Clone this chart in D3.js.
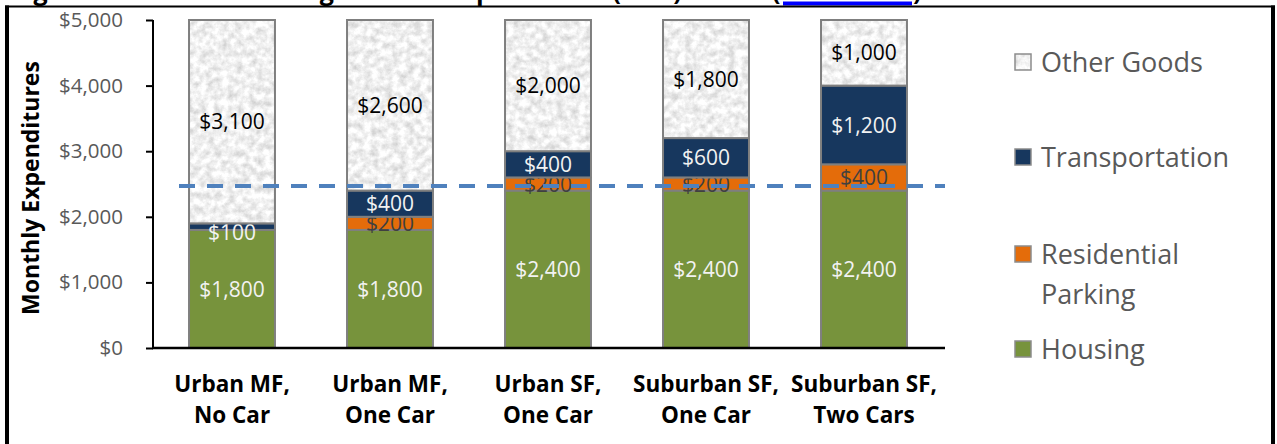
<!DOCTYPE html>
<html>
<head>
<meta charset="utf-8">
<script src="https://cdn.jsdelivr.net/npm/d3@7"></script>
<style>
  html, body { margin: 0; padding: 0; background: #fff; }
  svg { display: block; }
  text { font-family: "Open Sans", "DejaVu Sans", sans-serif; }
</style>
</head>
<body>
<svg id="chart" width="1277" height="444"></svg>
<script>
// Monthly household spending by scenario
const categories = [
  "Urban MF,\nNo Car",
  "Urban MF,\nOne Car",
  "Urban SF,\nOne Car",
  "Suburban SF,\nOne Car",
  "Suburban SF,\nTwo Cars"
];
const housing        = [1800, 1800, 2400, 2400, 2400];
const parking        = [0, 200, 200, 200, 400];
const transportation = [100, 400, 400, 600, 1200];
const otherGoods     = [3100, 2600, 2000, 1800, 1000];
const seriesNames    = ["Housing", "Residential Parking", "Transportation", "Other Goods"];
const yTicks         = [0, 1000, 2000, 3000, 4000, 5000];
const affordabilityLine = 2470;

const svg = d3.select("#chart");
const W = 1277, H = 444;

// Frame and partially visible heading
svg.append("text")
  .attr("x", 10).attr("y", 0)
  .attr("font-weight", 700).attr("font-size", 25)
  .attr("textLength", 752).attr("lengthAdjust", "spacing")
  .attr("fill", "#000")
  .text("Figure 10: Total Housing and Transportation (H+T) Costs");
svg.append("text").attr("x", 772).attr("y", 0)
  .attr("font-weight", 700).attr("font-size", 25).text("(");
svg.append("text").attr("x", 784).attr("y", 0)
  .attr("font-weight", 700).attr("font-size", 25)
  .attr("textLength", 127).attr("lengthAdjust", "spacingAndGlyphs")
  .attr("fill", "#0000ff").text("Source");
svg.append("rect").attr("x", 783).attr("y", 1.5).attr("width", 129).attr("height", 4).attr("fill", "#0000ff");
svg.append("text").attr("x", 913).attr("y", 0)
  .attr("font-weight", 700).attr("font-size", 25).text(")");

svg.append("rect").attr("x", 5).attr("y", 5.5).attr("width", 1270).attr("height", 2).attr("fill", "#000");
svg.append("rect").attr("x", 5).attr("y", 5.5).attr("width", 4).attr("height", H).attr("fill", "#000");
svg.append("rect").attr("x", 1271).attr("y", 5.5).attr("width", 4).attr("height", H).attr("fill", "#000");

// Granite-like texture for the "Other Goods" fill
const defs = svg.append("defs");
const f = defs.append("filter").attr("id", "granite")
  .attr("x", 0).attr("y", 0).attr("width", 1).attr("height", 1)
  .attr("color-interpolation-filters", "sRGB");
f.append("feTurbulence").attr("type", "fractalNoise")
  .attr("baseFrequency", 0.14).attr("numOctaves", 4).attr("seed", 11).attr("result", "noise");
f.append("feColorMatrix").attr("in", "noise").attr("type", "matrix")
  .attr("values", "0.32 0 0 0 0.78  0.32 0 0 0 0.78  0.32 0 0 0 0.78  0 0 0 0 1")
  .attr("result", "tone");
f.append("feComposite").attr("in", "tone").attr("in2", "SourceGraphic").attr("operator", "in");

// Scales
const x = d3.scaleBand().domain(categories).range([153, 943])
  .paddingInner(0.456).paddingOuter(0.228);
const y = d3.scaleLinear().domain([0, 5000]).range([348, 20]);

const colors = {
  "Housing": "#77933c",
  "Residential Parking": "#e46c0a",
  "Transportation": "#17375e",
  "Other Goods": "#ededed"
};
const labelColors = {
  "Housing": "#f2f2f2",
  "Residential Parking": "#404040",
  "Transportation": "#f2f2f2",
  "Other Goods": "#000000"
};

const rows = categories.map((c, i) => ({
  cat: c,
  "Housing": housing[i],
  "Residential Parking": parking[i],
  "Transportation": transportation[i],
  "Other Goods": otherGoods[i]
}));
const stacked = d3.stack().keys(seriesNames)(rows);

// Bars
const layers = svg.append("g").selectAll("g").data(stacked).join("g");
layers.selectAll("rect")
  .data(d => d.map(p => ({ key: d.key, p })))
  .join("rect")
  .filter(d => d.p[1] - d.p[0] > 0)
  .attr("x", d => x(d.p.data.cat))
  .attr("y", d => y(d.p[1]))
  .attr("width", x.bandwidth())
  .attr("height", d => y(d.p[0]) - y(d.p[1]))
  .attr("fill", d => colors[d.key])
  .attr("filter", d => d.key === "Other Goods" ? "url(#granite)" : null);
layers.selectAll("rect.edge")
  .data(d => d.map(p => ({ key: d.key, p })).filter(e => e.p[1] - e.p[0] > 0))
  .join("rect").attr("class", "edge")
  .attr("x", d => x(d.p.data.cat))
  .attr("y", d => y(d.p[1]))
  .attr("width", x.bandwidth())
  .attr("height", d => y(d.p[0]) - y(d.p[1]))
  .attr("fill", "none").attr("stroke", "#7f7f7f").attr("stroke-width", 2);

// Affordability reference line
svg.append("line")
  .attr("x1", 179).attr("x2", 945)
  .attr("y1", y(affordabilityLine)).attr("y2", y(affordabilityLine))
  .attr("stroke", "#4f81bd").attr("stroke-width", 4)
  .attr("stroke-dasharray", "16 12");

// Value labels
const fmt = v => "$" + d3.format(",")(v);
layers.selectAll("text")
  .data(d => d.map(p => ({ key: d.key, p })).filter(e => e.p[1] - e.p[0] > 0))
  .join("text")
  .attr("x", d => x(d.p.data.cat) + x.bandwidth() / 2)
  .attr("y", d => y((d.p[0] + d.p[1]) / 2))
  .attr("dy", d => (d.p[1] - d.p[0]) < 150 ? "0.65em" : "0.36em")
  .attr("text-anchor", "middle")
  .attr("font-size", 21)
  .attr("fill", d => labelColors[d.key])
  .text(d => fmt(d.p[1] - d.p[0]));

// Y axis
const yAxis = svg.append("g").attr("transform", "translate(153,0)")
  .call(d3.axisLeft(y).tickValues(yTicks).tickSize(7).tickPadding(23).tickFormat(fmt));
yAxis.select(".domain").attr("stroke", "#000").attr("stroke-width", 2).attr("d", "M0,20V348");
yAxis.selectAll(".tick line").attr("stroke", "#000").attr("stroke-width", 2);
yAxis.selectAll(".tick text").attr("font-size", 20.5).attr("fill", "#595959")
  .attr("font-family", "'Open Sans', sans-serif");

// X axis
const xAxis = svg.append("g").attr("transform", "translate(0,348)")
  .call(d3.axisBottom(x).tickSize(0).tickPadding(0).tickFormat(""));
xAxis.select(".domain").attr("stroke", "#000").attr("stroke-width", 2.5).attr("d", "M152,0H945");
xAxis.selectAll(".tick text").remove();
xAxis.selectAll(".tick").append("text")
  .attr("text-anchor", "middle")
  .attr("font-size", 22.5).attr("font-weight", 700).attr("fill", "#000")
  .attr("font-family", "'Open Sans', sans-serif")
  .selectAll("tspan")
  .data(d => d.split("\n"))
  .join("tspan")
  .attr("x", 0)
  .attr("y", (d, i) => 44 + i * 31)
  .text(d => d);

// Y axis title
svg.append("text")
  .attr("transform", "translate(39,188) rotate(-90)")
  .attr("text-anchor", "middle")
  .attr("font-size", 23).attr("font-weight", 700).attr("fill", "#000")
  .text("Monthly Expenditures");

// Legend
const legendItems = [
  { key: "Other Goods", lines: ["Other Goods"], cy: 62 },
  { key: "Transportation", lines: ["Transportation"], cy: 157 },
  { key: "Residential Parking", lines: ["Residential", "Parking"], cy: 254 },
  { key: "Housing", lines: ["Housing"], cy: 349 }
];
const legend = svg.append("g");
const li = legend.selectAll("g").data(legendItems).join("g");
li.append("rect")
  .attr("x", 1015).attr("y", d => d.cy - 8)
  .attr("width", 16).attr("height", 16)
  .attr("fill", d => colors[d.key])
  .attr("filter", d => d.key === "Other Goods" ? "url(#granite)" : null);
li.append("rect")
  .attr("x", 1015).attr("y", d => d.cy - 8)
  .attr("width", 16).attr("height", 16)
  .attr("fill", "none").attr("stroke", "#8c8c8c").attr("stroke-width", 1.5);
li.append("text")
  .attr("font-size", 27).attr("fill", "#595959")
  .selectAll("tspan")
  .data(d => d.lines.map((t, i) => ({ t, i, cy: d.cy })))
  .join("tspan")
  .attr("x", 1041)
  .attr("y", d => d.cy + d.i * 40)
  .attr("dy", "0.36em")
  .text(d => d.t);
</script>
</body>
</html>
